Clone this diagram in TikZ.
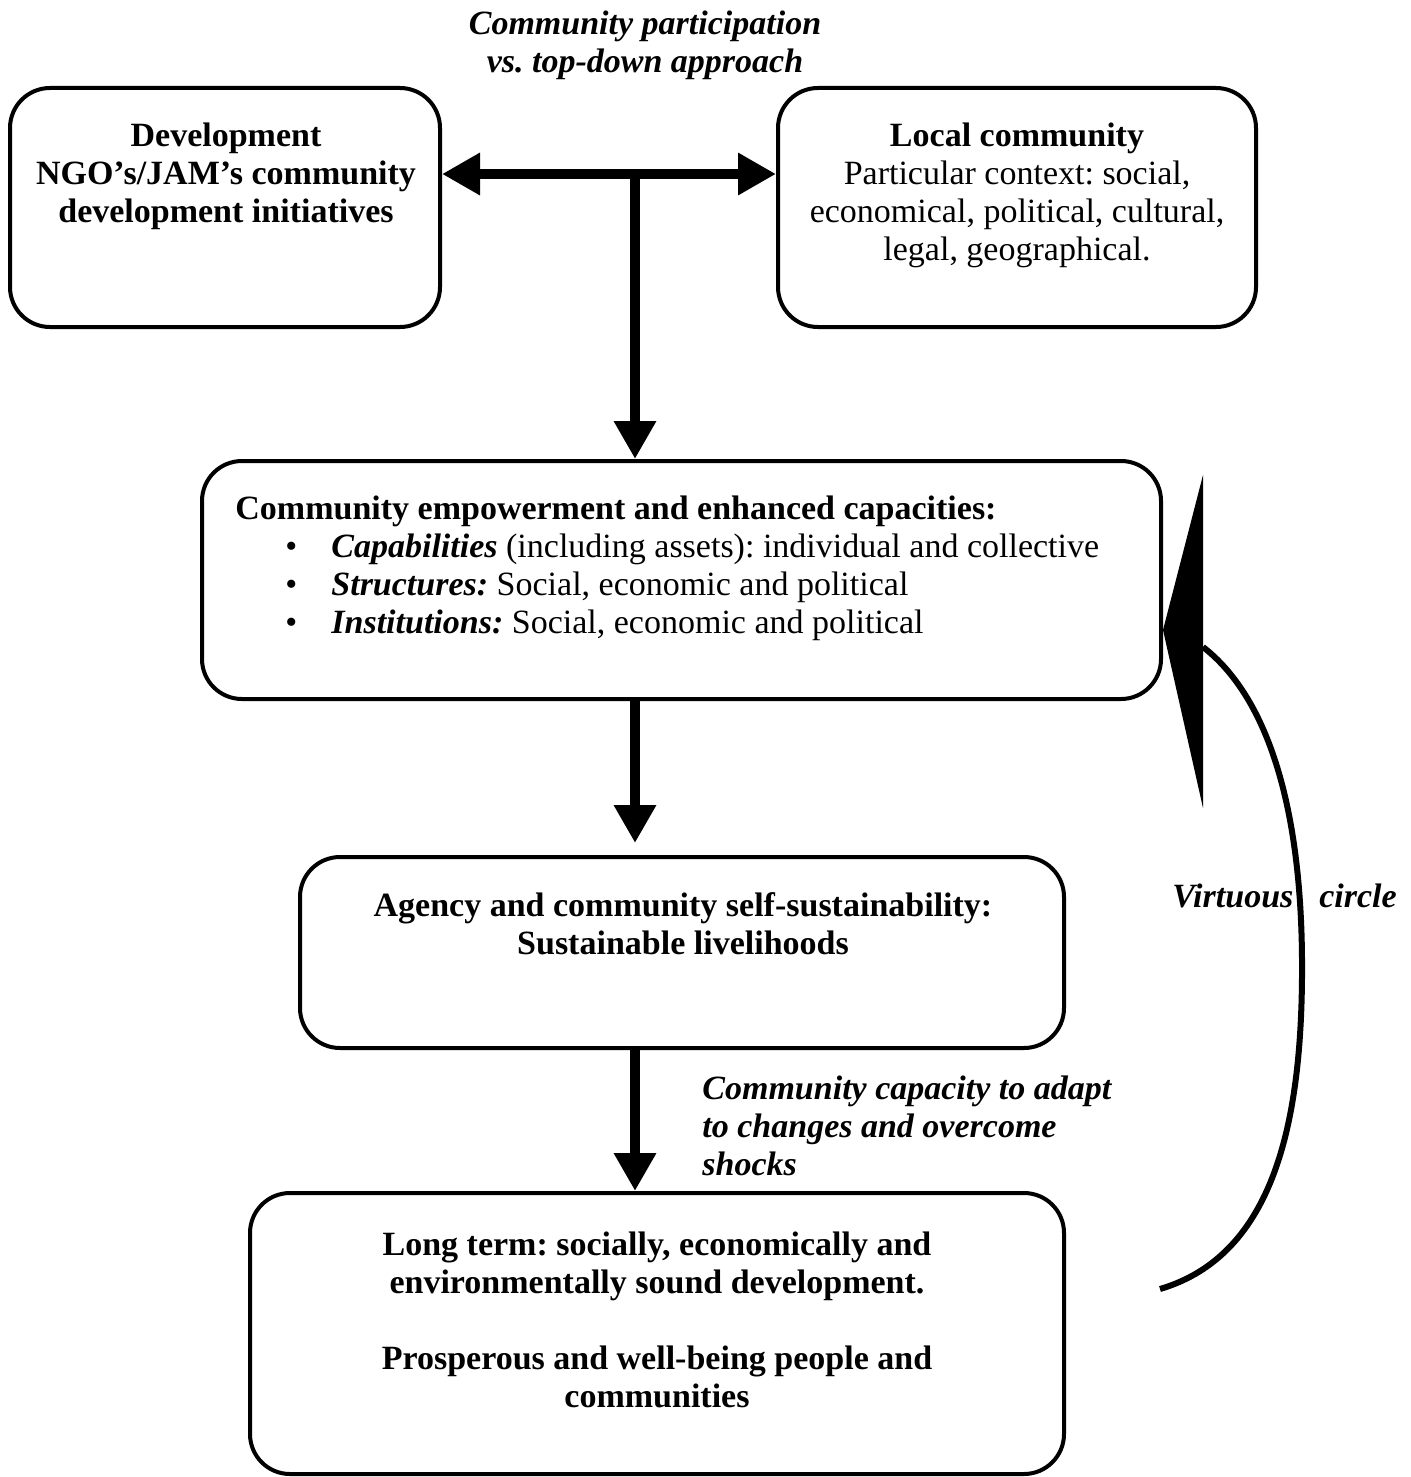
\documentclass[tikz,border=0pt]{standalone}
\usepackage{fontspec}
\setmainfont{Liberation Serif}
\usetikzlibrary{arrows.meta}
\frenchspacing
\begin{document}
\begin{tikzpicture}[x=0.5pt,y=-0.5pt,
 box/.style={draw, line width=2pt, rounded corners=20pt, inner sep=0pt},
 txt/.style={font=\fontsize{17}{19}\selectfont, align=center, inner sep=0pt},
 btxt/.style={txt, font=\fontsize{17}{19}\selectfont\bfseries},
 lbl/.style={txt, font=\fontsize{17}{19}\selectfont\bfseries\itshape},
 arr/.style={line width=5pt, -{Triangle[length=19pt,width=20pt]}},
 tri/.style={fill=black},
 curve/.style={line width=3pt},
]
\useasboundingbox (0,0) rectangle (1411,1477);
% boxes
\node[box, minimum width=215pt, minimum height=119.5pt] (b1) at (225,207.5) {};
\node[box, minimum width=239pt, minimum height=119.5pt] (b2) at (1017,207.5) {};
\node[box, minimum width=479.5pt, minimum height=119pt] (b3) at (681.5,580) {};
\node[box, minimum width=382pt, minimum height=95.5pt] (b4) at (682,952.5) {};
\node[box, minimum width=407pt, minimum height=140.5pt] (b5) at (657,1333.5) {};
% texts
\node[lbl] (top) at (645,45) {Community participation\\ vs.\ top-down approach};
\node[btxt] (t1) at (226,176) {Development\\ NGO’s/JAM’s community\\ development initiatives};
\node[txt] (t2) at (1017,195) {\textbf{Local community}\\ Particular context: social,\\ economical, political, cultural,\\ legal, geographical.};
\node[txt, align=left, anchor=west] (t3) at (235,568) {\textbf{Community empowerment and enhanced capacities:}\\
\makebox[48pt][l]{\hspace*{25pt}•}\textbf{\textit{Capabilities}} (including assets): individual and collective\\
\makebox[48pt][l]{\hspace*{25pt}•}\textbf{\textit{Structures:}} Social, economic and political\\
\makebox[48pt][l]{\hspace*{25pt}•}\textbf{\textit{Institutions:}} Social, economic and political};
\node[btxt] (t4) at (683,924) {Agency and community self-sustainability:\\ Sustainable livelihoods};
\node[lbl, align=left, anchor=west] (t6) at (702,1125.5) {Community capacity to adapt\\ to changes and overcome\\ shocks};
\node[btxt] (t5) at (657,1320) {Long term: socially, economically and\\ environmentally sound development.\\[19pt] Prosperous and well-being people and\\ communities};
\node[lbl, anchor=west] (vc) at (1172,896) {Virtuous\hspace{13pt}circle};
% connectors
\coordinate (T) at (635,174);
\draw[arr] (T) -- (T -| b1.east);
\draw[arr] (T) -- (T -| b2.west);
\draw[arr] (T) -- (T |- b3.north);
\draw[arr, shorten >=6pt] (b3.south -| T) -- (b4.north -| T);
\draw[arr] (b4.south -| T) -- (b5.north -| T);
% virtuous circle
\coordinate (vcs) at (1160,1289);
\coordinate (vce) at (1203,647);
\coordinate (vtip) at (1163,630);
\draw[curve] (vcs) .. controls (1275,1255) and (1303,1120) .. (1302,960)
  .. controls (1301,800) and (1265,695) .. (vce);
\fill[tri] (vtip) -- (1203,475) -- (1203,808) -- cycle;
\end{tikzpicture}
\end{document}
